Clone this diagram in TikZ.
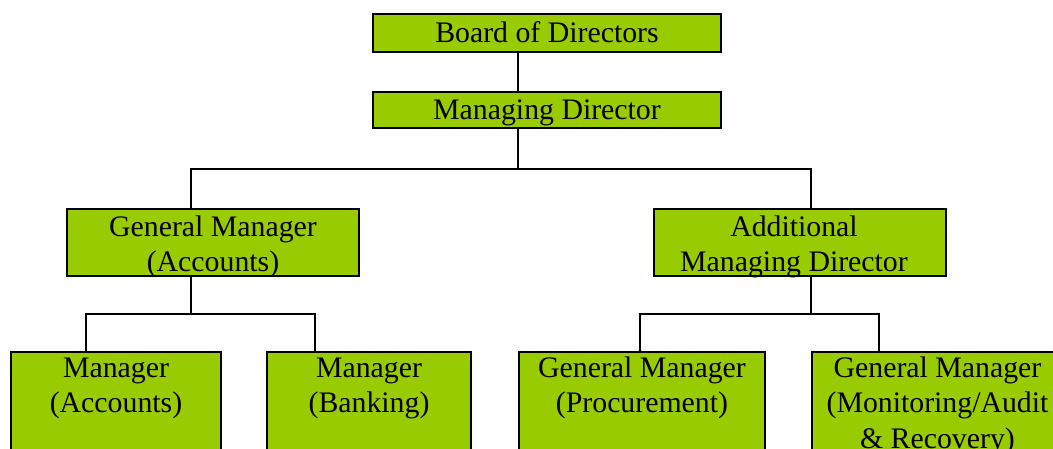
\documentclass[tikz,border=0pt]{standalone}
\usepackage{fontspec}
\setmainfont{Liberation Serif}
\definecolor{boxgreen}{RGB}{153,204,0}
% stacked, centred lines whose baseline is that of the first line
\newcommand{\orglines}[1]{\begin{tabular}[t]{@{}c@{}}#1\end{tabular}}
\begin{document}
\begin{tikzpicture}[x=1pt,y=-1pt,
  box/.style={draw=black, line width=2.4pt, fill=boxgreen, rectangle, inner sep=0pt},
  topbox/.style={box, anchor=north, minimum height=140pt},
  boxtext/.style={anchor=base, inner sep=0pt, font=\fontsize{29.8}{35.5}\selectfont},
  link/.style={draw=black, line width=2.4pt}]
  \useasboundingbox (0,0) rectangle (1053,448);
  \clip (0,0) rectangle (1053,448);

  % boxes
  \node[box, minimum width=348pt, minimum height=38pt] (bod) at (547,33) {};
  \node[box, minimum width=348pt, minimum height=36pt] (md) at (547,110) {};
  \node[box, minimum width=292pt, minimum height=67pt] (gma) at (213,242.5) {};
  \node[box, minimum width=292pt, minimum height=67pt] (amd) at (800,242.5) {};
  \node[topbox, minimum width=210pt] (ma) at (116,351) {};
  \node[topbox, minimum width=204pt] (mb) at (369,351) {};
  \node[topbox, minimum width=246pt] (gp) at (642,351) {};
  \node[topbox, minimum width=251pt] (gm) at (937.5,351) {};

  % texts
  \node[boxtext] (tbod) at (547,42) {Board of Directors};
  \node[boxtext] (tmd) at (547,119) {Managing Director};
  \node[boxtext] (tgma) at (213,236) {\orglines{General Manager\\(Accounts)}};
  \node[boxtext] (tamd) at (794,236) {\orglines{Additional\\Managing Director}};
  \node[boxtext] (tma) at (116,377) {\orglines{Manager\\(Accounts)}};
  \node[boxtext] (tmb) at (369,377) {\orglines{Manager\\(Banking)}};
  \node[boxtext] (tgp) at (642,377) {\orglines{General Manager\\(Procurement)}};
  \node[boxtext] (tgm) at (937.5,377) {\orglines{General Manager\\(Monitoring/Audit\\\& Recovery)}};

  % connector positions
  \coordinate (x0) at (518,0);
  \coordinate (x1) at (191,0);
  \coordinate (x2) at (811,0);
  \coordinate (xa) at (86,0);
  \coordinate (xb) at (315,0);
  \coordinate (xc) at (640,0);
  \coordinate (xd) at (879,0);
  \coordinate (bus0) at (0,169);
  \coordinate (bus1) at (0,314);

  % connectors
  \draw[link] (bod.south -| x0) -- (md.north -| x0);
  \draw[link] (md.south -| x0) -- (x0 |- bus0);
  \draw[link] (gma.north -| x1) -- (x1 |- bus0) -- (x2 |- bus0) -- (amd.north -| x2);
  \draw[link] (gma.south -| x1) -- (x1 |- bus1);
  \draw[link] (ma.north -| xa) -- (xa |- bus1) -- (xb |- bus1) -- (mb.north -| xb);
  \draw[link] (amd.south -| x2) -- (x2 |- bus1);
  \draw[link] (gp.north -| xc) -- (xc |- bus1) -- (xd |- bus1) -- (gm.north -| xd);
\end{tikzpicture}
\end{document}
